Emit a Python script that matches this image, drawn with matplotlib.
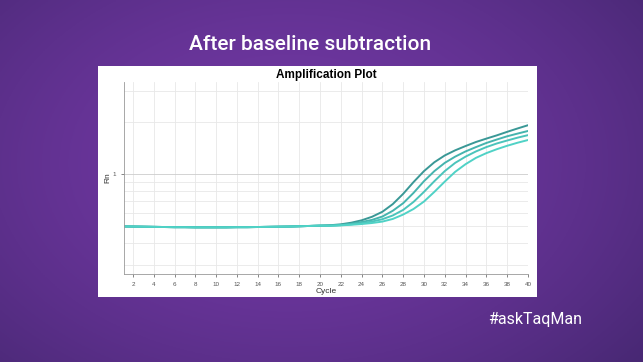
import numpy as np
import matplotlib
matplotlib.use("Agg")
import matplotlib.pyplot as plt
from matplotlib.patches import Rectangle
from matplotlib.ticker import NullFormatter, LogLocator

# cycles and Rn values
cycles = np.arange(1, 41)

base = [0.500, 0.499, 0.498, 0.497, 0.496, 0.495, 0.495, 0.494, 0.494, 0.494,
        0.494, 0.495, 0.495, 0.496, 0.497, 0.498, 0.499, 0.501, 0.503, 0.505]

rn_1 = base + [0.508, 0.514, 0.525, 0.542, 0.568, 0.607, 0.672, 0.770, 0.900, 1.040,
               1.170, 1.280, 1.370, 1.450, 1.530, 1.600, 1.670, 1.750, 1.830, 1.910]
rn_2 = base + [0.506, 0.510, 0.518, 0.530, 0.545, 0.570, 0.615, 0.680, 0.780, 0.910,
               1.040, 1.160, 1.260, 1.350, 1.430, 1.510, 1.580, 1.650, 1.710, 1.770]
rn_3 = base + [0.505, 0.508, 0.514, 0.522, 0.533, 0.550, 0.578, 0.622, 0.692, 0.790,
               0.910, 1.040, 1.160, 1.260, 1.350, 1.430, 1.500, 1.560, 1.620, 1.675]
rn_4 = base + [0.504, 0.507, 0.511, 0.516, 0.523, 0.533, 0.552, 0.585, 0.630, 0.695,
               0.790, 0.905, 1.030, 1.140, 1.240, 1.320, 1.390, 1.455, 1.515, 1.570]

series = [rn_1, rn_2, rn_3, rn_4]
colors = ["#3a9896", "#45b4ae", "#4bc4bb", "#50d2c6"]

plt.rcParams['font.family'] = ['Liberation Sans', 'DejaVu Sans']

fig = plt.figure(figsize=(6.43, 3.62), dpi=100)

# purple background, lighter in the middle
bg = fig.add_axes([0, 0, 1, 1])
yy, xx = np.mgrid[0:1:200j, 0:1:360j]
r = np.sqrt(((xx - 0.45) / 0.75) ** 2 + ((yy - 0.45) / 0.9) ** 2)
r = np.clip(r / 0.95, 0, 1) ** 1.6
c_in = np.array([0x72, 0x38, 0xa4]) / 255
c_out = np.array([0x48, 0x28, 0x74]) / 255
img = c_in[None, None, :] * (1 - r[..., None]) + c_out[None, None, :] * r[..., None]
bg.imshow(img, aspect="auto", extent=[0, 1, 0, 1])
bg.set_axis_off()

# white panel
bg.add_patch(Rectangle((0.152, 0.180), 0.683, 0.638, facecolor="white",
                       edgecolor="none", transform=bg.transAxes))

bg.text(0.482, 0.878, "After baseline subtraction", color="white", fontsize=15,
        family="Roboto", fontweight="medium", ha="center", va="center",
        transform=bg.transAxes)
bg.text(0.832, 0.117, "#askTaqMan", color="white", fontsize=11.5,
        family="Roboto", ha="center", va="center", transform=bg.transAxes)

ax = fig.add_axes([0.193, 0.243, 0.628, 0.530])
for s, c in zip(series, colors):
    ax.plot(cycles, s, color=c, lw=1.4)

ax.set_yscale("log")
ax.set_ylim(0.266, 3.38)
ax.set_xlim(1.15, 40)
ax.set_xticks(np.arange(2, 41, 2))
ax.set_yticks([1])
ax.set_yticklabels(["1"])
ax.yaxis.set_minor_locator(LogLocator(base=10, subs=np.arange(2, 10)))
ax.yaxis.set_minor_formatter(NullFormatter())
ax.tick_params(axis="both", labelsize=4.5, colors="#555555", length=2, width=0.5)
ax.tick_params(axis="y", which="minor", length=0)
ax.grid(True, which="both", color="#e8e8e8", lw=0.6)
ax.grid(True, which="major", axis="y", color="#cccccc", lw=0.6)
ax.set_axisbelow(True)
for side in ["top", "right"]:
    ax.spines[side].set_visible(False)
for side in ["left", "bottom"]:
    ax.spines[side].set_color("#999999")
    ax.spines[side].set_linewidth(0.6)

ax.set_title("Amplification Plot", fontsize=8.5, fontweight="bold", pad=3)
ax.set_xlabel("Cycle", fontsize=6, labelpad=1, color="#333333")
ax.set_ylabel("Rn", fontsize=6, labelpad=1, color="#333333")

fig.savefig("out.png", dpi=100)
